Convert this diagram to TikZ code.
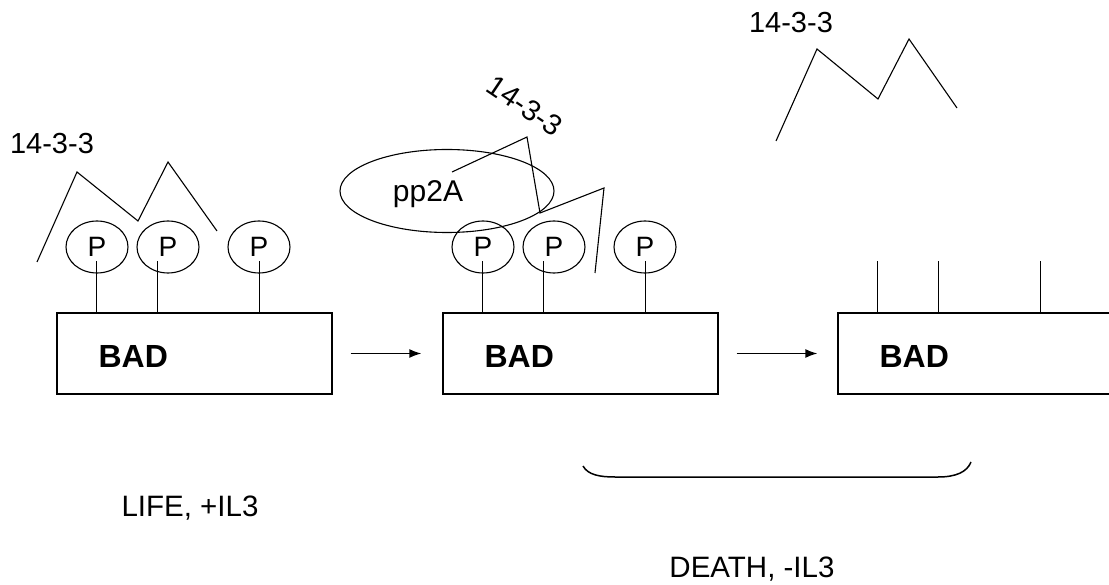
\documentclass[tikz,border=0pt]{standalone}
\usepackage{fontspec}
\setmainfont{Liberation Sans}
\usetikzlibrary{shapes.geometric,arrows.meta}

\tikzset{
  badbox/.style={draw, line width=1.3pt, minimum width=275pt, minimum height=81pt, inner sep=0pt},
  badtext/.style={anchor=west, inner sep=0pt, font=\fontsize{32}{36}\selectfont\bfseries},
  pball/.style={draw, ellipse, line width=1.1pt, minimum width=62pt, minimum height=52pt, inner sep=0pt,
                font=\fontsize{28}{32}\selectfont},
  stem/.style={line width=1.3pt},
  zig/.style={line width=1.1pt, line join=miter},
  lbl/.style={inner sep=0pt, font=\fontsize{29}{34}\selectfont},
  caption/.style={inner sep=0pt, font=\fontsize{29.5}{34}\selectfont},
  arr/.style={line width=1.3pt, -{Latex[length=12pt,width=9pt]}},
}

\begin{document}
\begin{tikzpicture}[x=1pt,y=-1pt]
\useasboundingbox (0,0) rectangle (1109,585);

% the three BAD states
\node[badbox] (box1) at (194.5,353.5) {};
\node[badbox] (box2) at (580.5,353.5) {};
\node[badbox] (box3) at (975.5,353.5) {};
\foreach \b in {1,2,3}{
  \node[badtext] (bad\b) at ([xshift=42pt,yshift=-3pt]box\b.west) {BAD};
  \coordinate (s\b1) at ([xshift=40pt]box\b.north west);
  \coordinate (s\b2) at ([xshift=101pt]box\b.north west);
  \coordinate (s\b3) at ([xshift=203pt]box\b.north west);
  \foreach \k in {1,2,3}{ \draw[stem] (s\b\k) -- ++(0,-51); }
}

% phosphate groups
\node[pball] (p11) at (97,247) {P};
\node[pball] (p12) at (168,247) {P};
\node[pball] (p13) at (259,247) {P};
\node[pball] (p21) at (483,247) {P};
\node[pball] (p22) at (554,247) {P};
\node[pball] (p23) at (645,247) {P};

% transitions
\draw[arr, shorten <=18pt, shorten >=21pt] (box1.east) -- (box2.west);
\draw[arr, shorten <=18pt, shorten >=20pt] (box2.east) -- (box3.west);

% phosphatase
\node[draw, ellipse, line width=1.1pt, minimum width=214pt, minimum height=83pt, inner sep=0pt] (pp) at (447,191) {};
\node[lbl, font=\fontsize{30}{34}\selectfont] (pptext) at ([xshift=-19pt,yshift=-3pt]pp.center) {pp2A};

% 14-3-3 bound
\draw[zig] (37,262) -- (77,172) -- (138,221) -- (168,162) -- (217,231);
\node[lbl] (t1) at (52,144) {14-3-3};

% 14-3-3 being released
\draw[zig] (452,172) -- (527,137) -- (540,213) -- (604,188) -- (595,273);
\node[lbl, rotate=-34] (t2) at (525,106) {14-3-3};

% 14-3-3 free
\draw[zig] (776,141) -- (817,49) -- (878,99) -- (909,39) -- (957,108);
\node[lbl] (t3) at (791,23) {14-3-3};

% brace under the death states
\draw[line width=1.5pt] (583,466) .. controls (588,475) and (600,477) .. (615,477)
  -- (938,477) .. controls (956,477) and (967,472) .. (971,462);

\node[caption] (life) at (190,508) {LIFE, +IL3};
\node[caption] (death) at (752,569) {DEATH, -IL3};
\end{tikzpicture}
\end{document}
